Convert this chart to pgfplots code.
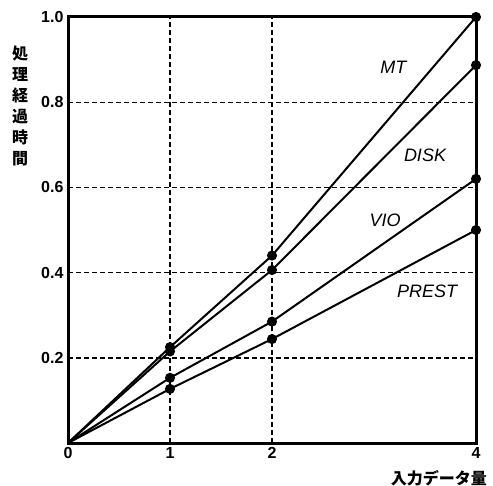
\documentclass[border=0pt]{standalone}
\usepackage{pgfplots}
\pgfplotsset{compat=1.18}
\usepackage{fontspec}
\setmainfont{Liberation Sans}
\newfontfamily\cjk{Noto Sans CJK JP}
\begin{document}
\begin{tikzpicture}
\begin{axis}[
  scale only axis,
  width=408pt, height=426pt,
  xmin=0, xmax=4, ymin=0, ymax=1,
  xtick={0,1,2,4},
  ytick={0.2,0.4,0.6,0.8,1.0},
  yticklabel style={/pgf/number format/fixed,/pgf/number format/precision=1,/pgf/number format/fixed zerofill},
  /pgf/number format/assume math mode=true,
  ticklabel style={font=\fontsize{16}{18}\selectfont\bfseries},
  xticklabel style={yshift=-1pt},
  yticklabel style={xshift=-1pt},
  major tick length=0pt,
  grid=major,
  major grid style={black, line width=1.4pt, dash pattern=on 5pt off 3pt},
  axis line style={line width=3pt},
  axis on top,
  clip=false,
]
\addplot[black, line width=2pt, mark=*, mark size=4pt, mark indices={2,3,4}] coordinates {(0,0) (1,0.225) (2,0.44) (4,1.0)};
\addplot[black, line width=2pt, mark=*, mark size=4pt, mark indices={2,3,4}] coordinates {(0,0) (1,0.215) (2,0.406) (4,0.887)};
\addplot[black, line width=2pt, mark=*, mark size=4pt, mark indices={2,3,4}] coordinates {(0,0) (1,0.153) (2,0.285) (4,0.62)};
\addplot[black, line width=2pt, mark=*, mark size=4pt, mark indices={2,3,4}] coordinates {(0,0) (1,0.127) (2,0.244) (4,0.50)};
\node[font=\fontsize{18}{20}\selectfont\itshape] at (axis cs:3.19,0.883) {MT};
\node[font=\fontsize{18}{20}\selectfont\itshape] at (axis cs:3.50,0.676) {DISK};
\node[font=\fontsize{18}{20}\selectfont\itshape] at (axis cs:3.11,0.523) {VIO};
\node[font=\fontsize{18}{20}\selectfont\itshape] at (axis cs:3.52,0.355) {PREST};
\node[font=\cjk\fontsize{16}{21}\selectfont\bfseries, align=center, inner sep=0pt] at ([xshift=-48pt]rel axis cs:0,0.792) {処\\理\\経\\過\\時\\間};
\node[font=\cjk\fontsize{16}{18}\selectfont\bfseries, anchor=east, inner sep=0pt] at ([xshift=11pt,yshift=-35pt]rel axis cs:1,0) {入力データ量};
\coordinate (bl) at ([xshift=-68pt,yshift=-42pt]rel axis cs:0,0);
\coordinate (tr) at ([xshift=17pt,yshift=17pt]rel axis cs:1,1);
\end{axis}
\path (bl) rectangle (tr);
\end{tikzpicture}
\end{document}
